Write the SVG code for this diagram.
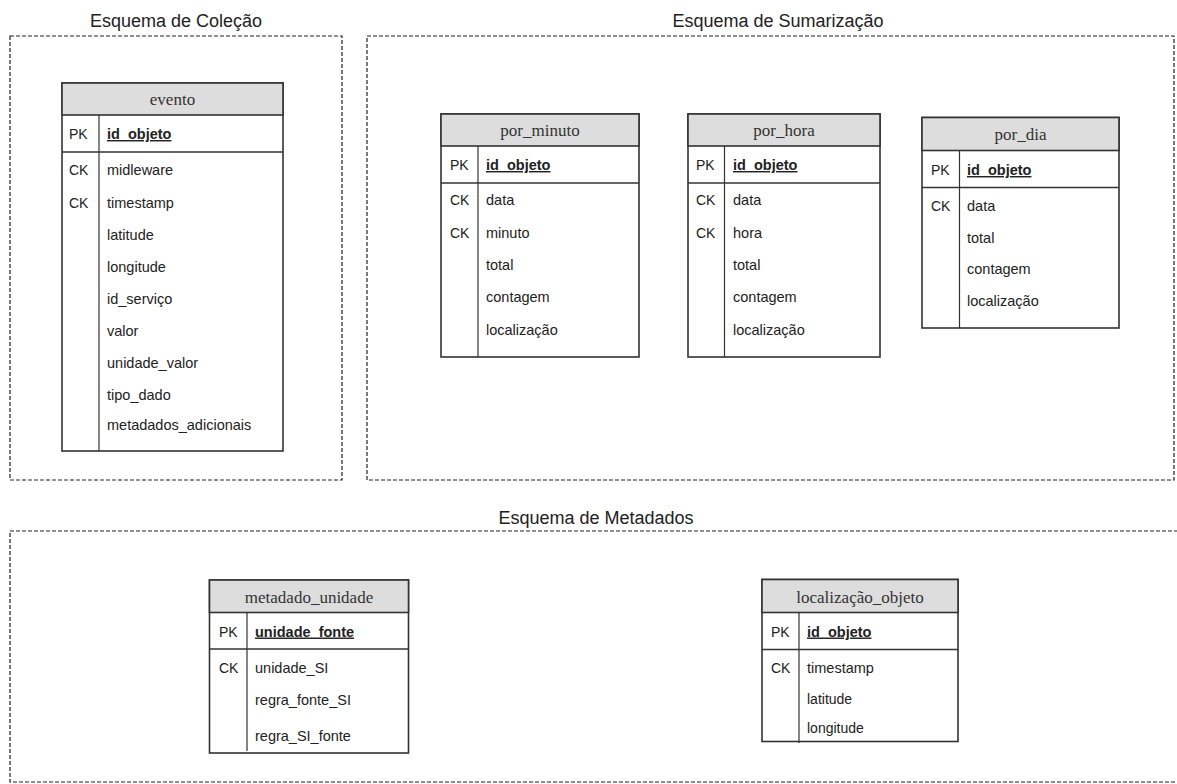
<svg xmlns="http://www.w3.org/2000/svg" width="1177" height="784" viewBox="0 0 1177 784">
  <style>
    .schema { fill: none; stroke: #222; stroke-width: 1.2; stroke-dasharray: 4 2; }
    .schema-title { font-family: "Liberation Sans", Arial, sans-serif; font-size: 18px; fill: #222; text-anchor: middle; }
    .tbl { fill: #fff; stroke: #333; stroke-width: 1.6; }
    .hdr { fill: #dddddd; stroke: #333; stroke-width: 1.6; }
    .sep { stroke: #333; stroke-width: 1.6; fill: none; }
    .div { stroke: #333; stroke-width: 1.2; fill: none; }
    .tname { font-family: "Liberation Serif", "Times New Roman", serif; font-size: 17px; fill: #333; text-anchor: middle; }
    .key { font-family: "Liberation Sans", Arial, sans-serif; font-size: 14px; fill: #222; }
    .field { font-family: "Liberation Sans", Arial, sans-serif; font-size: 14.5px; fill: #222; }
    .pk { font-family: "Liberation Sans", Arial, sans-serif; font-size: 14.5px; font-weight: bold; fill: #222; text-decoration: underline; }
  </style>

  <!-- schema frames -->
  <g id="schema-colecao">
    <rect class="schema" x="10" y="36" width="332" height="444"/>
    <text class="schema-title" x="176" y="27">Esquema de Coleção</text>
  </g>
  <g id="schema-sumarizacao">
    <rect class="schema" x="367" y="36" width="807" height="444"/>
    <text class="schema-title" x="778" y="27">Esquema de Sumarização</text>
  </g>
  <g id="schema-metadados">
    <rect class="schema" x="10" y="531" width="1180" height="251"/>
    <text class="schema-title" x="596" y="524">Esquema de Metadados</text>
  </g>

  <!-- table: evento -->
  <g id="evento">
    <rect class="tbl" x="62" y="83" width="221" height="368"/>
    <rect class="hdr" x="62" y="83" width="221" height="32"/>
    <line class="sep" x1="62" y1="152" x2="283" y2="152"/>
    <line class="div" x1="99" y1="115" x2="99" y2="451"/>
    <text class="tname" x="172.5" y="105">evento</text>
    <text class="key" x="69" y="139">PK</text>
    <text class="pk" x="107" y="139">id_objeto</text>
    <text class="key" x="69" y="175">CK</text>
    <text class="field" x="107" y="175">midleware</text>
    <text class="key" x="69" y="207.5">CK</text>
    <text class="field" x="107" y="207.5">timestamp</text>
    <text class="field" x="107" y="240">latitude</text>
    <text class="field" x="107" y="272">longitude</text>
    <text class="field" x="107" y="303.5">id_serviço</text>
    <text class="field" x="107" y="335.5">valor</text>
    <text class="field" x="107" y="367.5">unidade_valor</text>
    <text class="field" x="107" y="399.5">tipo_dado</text>
    <text class="field" x="107" y="430">metadados_adicionais</text>
  </g>

  <!-- table: por_minuto -->
  <g id="por_minuto">
    <rect class="tbl" x="441" y="114" width="198" height="243"/>
    <rect class="hdr" x="441" y="114" width="198" height="32"/>
    <line class="sep" x1="441" y1="183" x2="639" y2="183"/>
    <line class="div" x1="478" y1="146" x2="478" y2="357"/>
    <text class="tname" x="540" y="136">por_minuto</text>
    <text class="key" x="450" y="170">PK</text>
    <text class="pk" x="486" y="170">id_objeto</text>
    <text class="key" x="450" y="205">CK</text>
    <text class="field" x="486" y="205">data</text>
    <text class="key" x="450" y="238">CK</text>
    <text class="field" x="486" y="238">minuto</text>
    <text class="field" x="486" y="270">total</text>
    <text class="field" x="486" y="302">contagem</text>
    <text class="field" x="486" y="335">localização</text>
  </g>

  <!-- table: por_hora -->
  <g id="por_hora">
    <rect class="tbl" x="688" y="114" width="192" height="243"/>
    <rect class="hdr" x="688" y="114" width="192" height="32"/>
    <line class="sep" x1="688" y1="183" x2="880" y2="183"/>
    <line class="div" x1="724.5" y1="146" x2="724.5" y2="357"/>
    <text class="tname" x="784" y="136">por_hora</text>
    <text class="key" x="696" y="170">PK</text>
    <text class="pk" x="733" y="170">id_objeto</text>
    <text class="key" x="696" y="205">CK</text>
    <text class="field" x="733" y="205">data</text>
    <text class="key" x="696" y="238">CK</text>
    <text class="field" x="733" y="238">hora</text>
    <text class="field" x="733" y="270">total</text>
    <text class="field" x="733" y="302">contagem</text>
    <text class="field" x="733" y="335">localização</text>
  </g>

  <!-- table: por_dia -->
  <g id="por_dia">
    <rect class="tbl" x="922" y="117.5" width="197" height="210.5"/>
    <rect class="hdr" x="922" y="117.5" width="197" height="33"/>
    <line class="sep" x1="922" y1="187.5" x2="1119" y2="187.5"/>
    <line class="div" x1="959.5" y1="150.5" x2="959.5" y2="328"/>
    <text class="tname" x="1020.5" y="140">por_dia</text>
    <text class="key" x="931" y="175">PK</text>
    <text class="pk" x="967" y="175">id_objeto</text>
    <text class="key" x="931" y="210.5">CK</text>
    <text class="field" x="967" y="210.5">data</text>
    <text class="field" x="967" y="242.5">total</text>
    <text class="field" x="967" y="273.5">contagem</text>
    <text class="field" x="967" y="306">localização</text>
  </g>

  <!-- table: metadado_unidade -->
  <g id="metadado_unidade">
    <rect class="tbl" x="209.5" y="580" width="199" height="173"/>
    <rect class="hdr" x="209.5" y="580" width="199" height="32.5"/>
    <line class="sep" x1="209.5" y1="649" x2="408.5" y2="649"/>
    <line class="div" x1="247" y1="612.5" x2="247" y2="751"/>
    <text class="tname" x="309" y="603">metadado_unidade</text>
    <text class="key" x="219" y="636.5">PK</text>
    <text class="pk" x="255" y="636.5">unidade_fonte</text>
    <text class="key" x="219" y="673">CK</text>
    <text class="field" x="255" y="673">unidade_SI</text>
    <text class="field" x="255" y="705">regra_fonte_SI</text>
    <text class="field" x="255" y="740.5">regra_SI_fonte</text>
  </g>

  <!-- table: localização_objeto -->
  <g id="localizacao_objeto">
    <rect class="tbl" x="762" y="579.5" width="196" height="162"/>
    <rect class="hdr" x="762" y="579.5" width="196" height="33"/>
    <line class="sep" x1="762" y1="649.5" x2="958" y2="649.5"/>
    <line class="div" x1="799" y1="612.5" x2="799" y2="743"/>
    <text class="tname" x="860" y="603">localização_objeto</text>
    <text class="key" x="771" y="636.5">PK</text>
    <text class="pk" x="807" y="636.5">id_objeto</text>
    <text class="key" x="771" y="672.5">CK</text>
    <text class="field" x="807" y="672.5">timestamp</text>
    <text class="field" x="807" y="704" style="font-size:14px">latitude</text>
    <text class="field" x="807" y="732.5" style="font-size:14px">longitude</text>
  </g>

  <!-- no relationships are drawn between the tables -->
  <g id="connectors"/>
</svg>
